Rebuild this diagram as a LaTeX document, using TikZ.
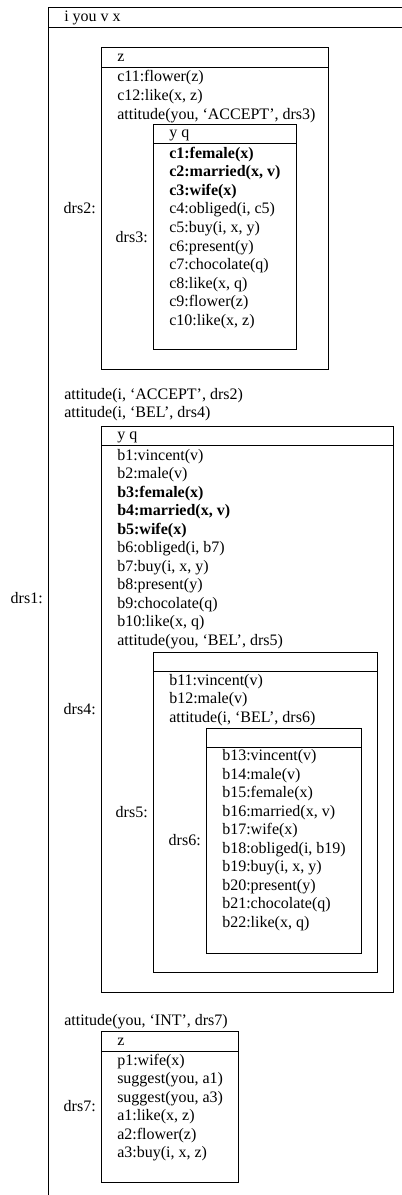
\documentclass[tikz,border=0pt]{standalone}
\usepackage{fontspec}
\setmainfont{Liberation Serif}
% \drsframe{name}{left}{top}{right}{bottom}{header line y}
\newcommand\drsframe[6]{%
  \draw[boxline] (#2,#3) rectangle (#4,#5);
  \draw[boxline] (#2,#6) -- (#4,#6);
  \coordinate (#1-w) at (#2,{(#3+#5)/2});
}
% \drslines{prefix}{x}{first baseline}{list of lines}
\newcommand\drslines[4]{%
  \foreach \t [count=\i from 0] in {#4} {
    \node[txt] (#1-\i) at (#2,{#3+\i*18.55}) {\t};
  }
}
\begin{document}
\begin{tikzpicture}[x=0.75pt,y=-0.75pt,
  boxline/.style={draw=black,line width=0.75pt},
  txt/.style={anchor=base west,inner sep=0pt,font=\fontsize{12}{14}\selectfont},
  lbl/.style={anchor=east,inner sep=0pt,xshift=-3.75pt,font=\fontsize{12}{14}\selectfont}]
\useasboundingbox (0,0) rectangle (402,1195);
\clip (0,0) rectangle (402,1195);

% drs1 (outer, cut off at right and bottom)
\draw[boxline] (48,8) rectangle (430,1230);
\draw[boxline] (48,28) -- (430,28);
\coordinate (drs1-w) at (48,598);
\node[txt] (h1) at (64,21.5) {i you v x};
\node[lbl] (l1) at (drs1-w) {drs1:};

% drs2
\drsframe{drs2}{101}{48}{328}{369}{67.5}
\node[txt] (h2) at (117,61.5) {z};
\node[lbl] (l2) at (drs2-w) {drs2:};
\drslines{b2}{117}{82}{{c11:flower(z)},{c12:like(x, z)},{attitude(you, ‘ACCEPT’, drs3)}}

% drs3
\drsframe{drs3}{153}{124.5}{296}{349.5}{144}
\node[txt] (h3) at (169,138) {y q};
\node[lbl] (l3) at (drs3-w) {drs3:};
\drslines{b3}{169}{158.3}{{\textbf{c1:female(x)}},{\textbf{c2:married(x, v)}},{\textbf{c3:wife(x)}},{c4:obliged(i, c5)},{c5:buy(i, x, y)},{c6:present(y)},{c7:chocolate(q)},{c8:like(x, q)},{c9:flower(z)},{c10:like(x, z)}}

% conditions of drs1
\drslines{o1}{64}{399}{{attitude(i, ‘ACCEPT’, drs2)},{attitude(i, ‘BEL’, drs4)}}

% drs4
\drsframe{drs4}{101}{426}{393}{992}{445.5}
\node[txt] (h4) at (117,439.5) {y q};
\node[lbl] (l4) at (drs4-w) {drs4:};
\drslines{b4}{117}{460}{{b1:vincent(v)},{b2:male(v)},{\textbf{b3:female(x)}},{\textbf{b4:married(x, v)}},{\textbf{b5:wife(x)}},{b6:obliged(i, b7)},{b7:buy(i, x, y)},{b8:present(y)},{b9:chocolate(q)},{b10:like(x, q)},{attitude(you, ‘BEL’, drs5)}}

% drs5
\drsframe{drs5}{153}{652}{377}{972.5}{671}
\node[lbl] (l5) at (drs5-w) {drs5:};
\drslines{b5}{169}{685}{{b11:vincent(v)},{b12:male(v)},{attitude(i, ‘BEL’, drs6)}}

% drs6
\drsframe{drs6}{206}{728}{361}{953}{747.5}
\node[lbl] (l6) at (drs6-w) {drs6:};
\drslines{b6}{222}{760.5}{{b13:vincent(v)},{b14:male(v)},{b15:female(x)},{b16:married(x, v)},{b17:wife(x)},{b18:obliged(i, b19)},{b19:buy(i, x, y)},{b20:present(y)},{b21:chocolate(q)},{b22:like(x, q)}}

% drs1 last condition
\drslines{o2}{64}{1025.5}{{attitude(you, ‘INT’, drs7)}}

% drs7
\drsframe{drs7}{101}{1031}{238}{1182}{1051}
\node[txt] (h7) at (117,1045) {z};
\node[lbl] (l7) at (drs7-w) {drs7:};
\drslines{b7}{117}{1065}{{p1:wife(x)},{suggest(you, a1)},{suggest(you, a3)},{a1:like(x, z)},{a2:flower(z)},{a3:buy(i, x, z)}}
\end{tikzpicture}
\end{document}
